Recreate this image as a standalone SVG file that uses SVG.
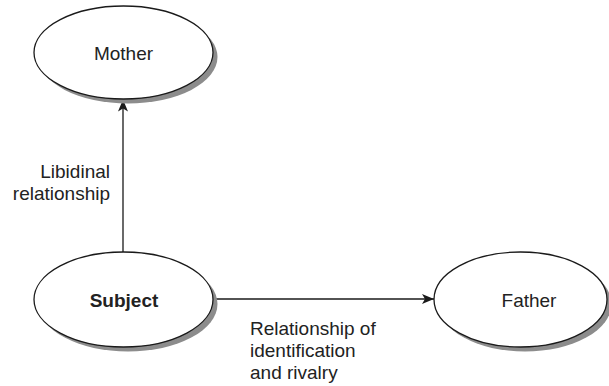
<svg xmlns="http://www.w3.org/2000/svg" width="609" height="386" viewBox="0 0 609 386">
  <defs>
    <style>
      .shadow { fill: #8c8c8c; stroke: none; }
      .node { fill: #ffffff; stroke: #1a1a1a; stroke-width: 1.3; }
      .label { font-family: "Liberation Sans", Arial, sans-serif; font-size: 19px; fill: #222222; }
      .edge { stroke: #1a1a1a; stroke-width: 1.3; fill: none; }
    </style>
    <marker id="arrow" viewBox="0 0 12 10" refX="12" refY="5" markerWidth="12" markerHeight="10" markerUnits="userSpaceOnUse" orient="auto">
      <path d="M0,0 L12,5 L0,10 L3,5 Z" fill="#1a1a1a"/>
    </marker>
  </defs>
  <rect width="609" height="386" fill="#ffffff"/>

  <g id="connectors">
    <line class="edge" x1="123" y1="252" x2="123" y2="99.5" marker-end="url(#arrow)"/>
    <line class="edge" x1="213" y1="299" x2="434" y2="299" marker-end="url(#arrow)"/>
    <text class="label" text-anchor="end" x="110" y="178">Libidinal</text>
    <text class="label" text-anchor="end" x="110" y="200">relationship</text>
    <text class="label" x="250" y="335">Relationship of</text>
    <text class="label" x="250" y="357">identification</text>
    <text class="label" x="250" y="379">and rivalry</text>
  </g>

  <g id="mother">
    <ellipse class="shadow" cx="128" cy="57" rx="89.5" ry="46.5"/>
    <ellipse class="node" cx="123.5" cy="52.5" rx="89.5" ry="46.5"/>
    <text class="label" text-anchor="middle" x="123.5" y="59.5">Mother</text>
  </g>

  <g id="subject">
    <ellipse class="shadow" cx="128" cy="304" rx="89.5" ry="47.5"/>
    <ellipse class="node" cx="123.5" cy="299.5" rx="89.5" ry="47.5"/>
    <text class="label" text-anchor="middle" font-weight="bold" x="124" y="306.5">Subject</text>
  </g>

  <g id="father">
    <ellipse class="shadow" cx="525" cy="304" rx="86.5" ry="47.5"/>
    <ellipse class="node" cx="520.5" cy="299.5" rx="86.5" ry="47.5"/>
    <text class="label" text-anchor="middle" x="529" y="306.5">Father</text>
  </g>
</svg>
